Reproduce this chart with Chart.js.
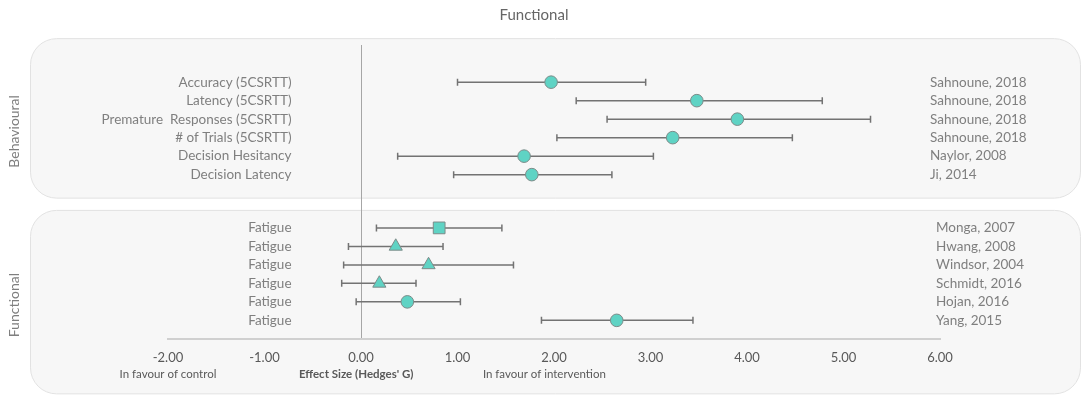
<!DOCTYPE html>
<html>
<head>
<meta charset="utf-8">
<script src="https://cdn.jsdelivr.net/npm/chart.js@4.4.1/dist/chart.umd.min.js"></script>
<style>
  html, body { margin: 0; padding: 0; background: #ffffff; }
  #wrap { width: 1084px; height: 397px; position: relative; }
</style>
</head>
<body>
<div id="wrap"><canvas id="forest"></canvas></div>
<script>
// --- data ---
const behaviourOutcomes = ["Accuracy (5CSRTT)", "Latency (5CSRTT)", "Premature  Responses (5CSRTT)", "# of Trials (5CSRTT)", "Decision Hesitancy", "Decision Latency"];
const behaviourStudies = ["Sahnoune, 2018", "Sahnoune, 2018", "Sahnoune, 2018", "Sahnoune, 2018", "Naylor, 2008", "Ji, 2014"];
const behaviourEffect = [1.97, 3.48, 3.90, 3.23, 1.69, 1.77];
const behaviourLower = [1.00, 2.23, 2.55, 2.03, 0.38, 0.96];
const behaviourUpper = [2.95, 4.78, 5.28, 4.47, 3.03, 2.60];
const behaviourShapes = ["circle", "circle", "circle", "circle", "circle", "circle"];

const functionalOutcomes = ["Fatigue", "Fatigue", "Fatigue", "Fatigue", "Fatigue", "Fatigue"];
const functionalStudies = ["Monga, 2007", "Hwang, 2008", "Windsor, 2004", "Schmidt, 2016", "Hojan, 2016", "Yang, 2015"];
const functionalEffect = [0.81, 0.36, 0.70, 0.19, 0.48, 2.65];
const functionalLower = [0.16, -0.13, -0.18, -0.20, -0.05, 1.87];
const functionalUpper = [1.46, 0.85, 1.58, 0.57, 1.03, 3.44];
const functionalShapes = ["rect", "triangle", "triangle", "triangle", "circle", "circle"];

const xTicks = [-2, -1, 0, 1, 2, 3, 4, 5, 6];
const groupNames = ["Behavioural", "Functional"];
const chartTitle = "Functional";
const axisNotes = ["In favour of control", "Effect Size (Hedges' G)", "In favour of intervention"];

// row positions on the (hidden) y scale
const groupGap = 7.88;
const behaviourRows = behaviourEffect.map((_, i) => i);
const functionalRows = functionalEffect.map((_, i) => i + groupGap);

const font = "Lato, 'Open Sans', sans-serif";
const teal = "#5fd3c4";
const markerEdge = "#7d8b89";
const whiskerGrey = "#737373";
const textGrey = "#7f7f7f";

const markerPoints = [];
const markerShapes = [];
const markerSizes = [];
const whiskerPoints = [];

const addGroup = (rows, effect, lower, upper, shapes) => {
  rows.forEach((row, i) => {
    markerPoints.push({ x: effect[i], y: row });
    markerShapes.push(shapes[i]);
    markerSizes.push(shapes[i] === "rect" ? 8.3 : shapes[i] === "triangle" ? 7.6 : 6.3);
    whiskerPoints.push({ x: lower[i], y: row }, { x: upper[i], y: row }, { x: null, y: null });
  });
};
addGroup(behaviourRows, behaviourEffect, behaviourLower, behaviourUpper, behaviourShapes);
addGroup(functionalRows, functionalEffect, functionalLower, functionalUpper, functionalShapes);

const roundedBox = (ctx, x, y, w, h, r) => {
  ctx.beginPath();
  ctx.moveTo(x + r, y);
  ctx.lineTo(x + w - r, y);
  ctx.arcTo(x + w, y, x + w, y + r, r);
  ctx.lineTo(x + w, y + h - r);
  ctx.arcTo(x + w, y + h, x + w - r, y + h, r);
  ctx.lineTo(x + r, y + h);
  ctx.arcTo(x, y + h, x, y + h - r, r);
  ctx.lineTo(x, y + r);
  ctx.arcTo(x, y, x + r, y, r);
  ctx.closePath();
};

const panelsPlugin = {
  id: "panels",
  beforeDraw(chart) {
    const { ctx, scales: { y } } = chart;
    const top1 = y.getPixelForValue(behaviourRows[0]) - 44;
    const bot1 = y.getPixelForValue(behaviourRows[behaviourRows.length - 1]) + 23;
    const top2 = y.getPixelForValue(functionalRows[0]) - 18;
    const bot2 = y.getPixelForValue(functionalRows[functionalRows.length - 1]) + 73;
    ctx.save();
    ctx.fillStyle = "#f7f7f7";
    ctx.strokeStyle = "#e2e2e2";
    ctx.lineWidth = 1;
    roundedBox(ctx, 30.5, top1 + 0.5, 1050, bot1 - top1, 26);
    ctx.fill();
    ctx.stroke();
    roundedBox(ctx, 30.5, top2 + 0.5, 1050, bot2 - top2, 26);
    ctx.fill();
    ctx.stroke();
    ctx.restore();
  },
  afterDraw(chart) {
    const { ctx, scales: { x, y } } = chart;
    ctx.save();
    // title
    ctx.fillStyle = "#666666";
    ctx.font = "15px " + font;
    ctx.textAlign = "center";
    ctx.textBaseline = "middle";
    ctx.fillText(chartTitle, 534, 15);

    // row labels
    ctx.font = "13.5px " + font;
    ctx.fillStyle = textGrey;
    const labelRight = x.getPixelForValue(-0.72);
    ctx.textAlign = "right";
    behaviourRows.forEach((r, i) => ctx.fillText(behaviourOutcomes[i], labelRight, y.getPixelForValue(r)));
    functionalRows.forEach((r, i) => ctx.fillText(functionalOutcomes[i], labelRight, y.getPixelForValue(r)));
    ctx.textAlign = "left";
    behaviourRows.forEach((r, i) => ctx.fillText(behaviourStudies[i], 930, y.getPixelForValue(r)));
    functionalRows.forEach((r, i) => ctx.fillText(functionalStudies[i], 936, y.getPixelForValue(r)));

    // group labels
    ctx.font = "14px " + font;
    ctx.textAlign = "center";
    const groupY = [y.getPixelForValue(2.5) + 3, y.getPixelForValue(groupGap + 2.5) + 31];
    groupNames.forEach((name, i) => {
      ctx.save();
      ctx.translate(14, groupY[i]);
      ctx.rotate(-Math.PI / 2);
      ctx.fillText(name, 0, 0);
      ctx.restore();
    });

    // notes under the axis
    const noteY = chart.chartArea.bottom + 35;
    ctx.fillStyle = "#595959";
    ctx.font = "11.5px " + font;
    ctx.fillText(axisNotes[0], x.getPixelForValue(-2), noteY);
    ctx.fillText(axisNotes[2], x.getPixelForValue(1.9), noteY);
    ctx.font = "bold 11.5px " + font;
    ctx.fillText(axisNotes[1], x.getPixelForValue(-0.05), noteY);
    ctx.restore();
  }
};

new Chart(document.getElementById("forest"), {
  type: "scatter",
  data: {
    datasets: [
      {
        label: "effect",
        data: markerPoints,
        order: 0,
        pointStyle: markerShapes,
        pointRadius: markerSizes,
        pointBackgroundColor: teal,
        pointBorderColor: markerEdge,
        pointBorderWidth: 1,
      },
      {
        type: "line",
        label: "interval",
        data: whiskerPoints,
        order: 1,
        showLine: true,
        spanGaps: false,
        borderColor: whiskerGrey,
        borderWidth: 1.5,
        pointStyle: "line",
        pointRotation: 90,
        pointRadius: 3.5,
        pointBorderColor: whiskerGrey,
        pointBorderWidth: 1.5,
      },
    ],
  },
  options: {
    responsive: true,
    maintainAspectRatio: false,
    animation: false,
    layout: { padding: { left: 168, right: 144, top: 45, bottom: 20 } },
    plugins: {
      legend: { display: false },
      tooltip: { enabled: false },
      title: { display: false },
    },
    scales: {
      x: {
        type: "linear",
        min: xTicks[0],
        max: xTicks[xTicks.length - 1],
        afterBuildTicks: (axis) => { axis.ticks = xTicks.map((v) => ({ value: v })); },
        ticks: {
          callback: (v) => v.toFixed(2),
          color: "#595959",
          font: { family: font, size: 13 },
          padding: 11,
          maxRotation: 0,
        },
        grid: {
          drawTicks: false,
          color: (c) => (c.tick && c.tick.value === 0 ? "#a6a6a6" : "rgba(0,0,0,0)"),
          lineWidth: 1,
        },
        border: { color: "#d0d0d0", width: 2 },
      },
      y: {
        type: "linear",
        display: false,
        reverse: true,
        min: -2.01,
        max: 13.91,
      },
    },
  },
  plugins: [panelsPlugin],
});
</script>
</body>
</html>
